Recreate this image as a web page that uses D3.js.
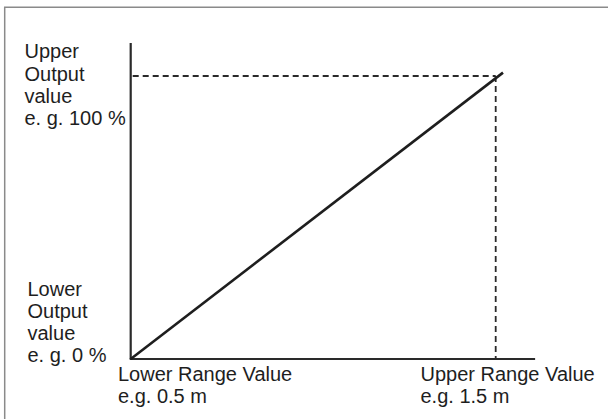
<!DOCTYPE html>
<html><head><meta charset="utf-8">
<script src="https://cdn.jsdelivr.net/npm/d3@7"></script>
<style>
html,body{margin:0;padding:0;background:#fff;}
svg{display:block;}
text{font-family:"Liberation Sans",Arial,Helvetica,sans-serif;font-size:20px;fill:#1e1e1e;}
</style></head>
<body>
<svg id="c" width="608" height="419"></svg>
<script>
// Data
const rangeValues = [0.5, 1.5];          // lower / upper range value (m)
const outputValues = [0, 100];           // lower / upper output value (%)
const linePoints = [[0.5, 0], [1.52, 101.2]];
const axisExtent = {x: [0.5, 1.608], y: [0, 111.7]};
const upperOutputLabel = ["Upper", "Output", "value", "e. g. 100 %"];
const lowerOutputLabel = ["Lower", "Output", "value", "e. g. 0 %"];
const lowerRangeLabel = ["Lower Range Value", "e.g. 0.5 m"];
const upperRangeLabel = ["Upper Range Value", "e.g. 1.5 m"];

const svg = d3.select("#c");
const x = d3.scaleLinear().domain(rangeValues).range([130.7, 495.7]);
const y = d3.scaleLinear().domain(outputValues).range([359, 76]);

// frame
svg.append("path").attr("d", "M4.7,430 V7.3 H620")
  .attr("fill", "none").attr("stroke", "#8a8a8a").attr("stroke-width", 1.5);

// axes
svg.append("line").attr("x1", x(axisExtent.x[0])).attr("x2", x(axisExtent.x[0]))
  .attr("y1", y(axisExtent.y[1])).attr("y2", y(0))
  .attr("stroke", "#2a2a2a").attr("stroke-width", 2.2);
svg.append("line").attr("x1", x(axisExtent.x[0]) - 1).attr("x2", x(axisExtent.x[1]))
  .attr("y1", y(0)).attr("y2", y(0))
  .attr("stroke", "#2a2a2a").attr("stroke-width", 2.2);

// dashed guides
svg.append("line").attr("x1", x(rangeValues[0]) + 2).attr("x2", x(rangeValues[1]))
  .attr("y1", y(outputValues[1])).attr("y2", y(outputValues[1]))
  .attr("stroke", "#2a2a2a").attr("stroke-width", 1.8).attr("stroke-dasharray", "6,4");
svg.append("line").attr("x1", x(rangeValues[1])).attr("x2", x(rangeValues[1]))
  .attr("y1", y(outputValues[1])).attr("y2", y(0))
  .attr("stroke", "#2a2a2a").attr("stroke-width", 1.8).attr("stroke-dasharray", "6,4");

// transfer line
svg.append("path").datum(linePoints)
  .attr("d", d3.line().x(d => x(d[0])).y(d => y(d[1])))
  .attr("fill", "none").attr("stroke", "#1e1e1e").attr("stroke-width", 2.6);

function block(lines, x0, y0, lh) {
  const t = svg.append("text");
  lines.forEach((s, i) => t.append("tspan").attr("x", x0).attr("y", y0 + i * lh).text(s));
}
block(upperOutputLabel, 24.5, 58.3, 22.2);
block(lowerOutputLabel, 27.5, 295.5, 22.2);
block(lowerRangeLabel, 118, 380.7, 22.6);
block(upperRangeLabel, 420.5, 380.7, 22.6);
</script>
</body></html>
